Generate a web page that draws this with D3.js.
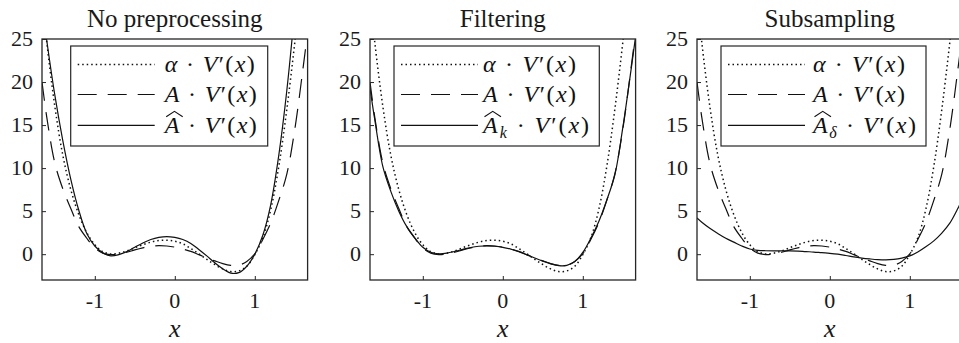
<!DOCTYPE html>
<html>
<head>
<meta charset="UTF-8">
</head>
<body style="margin:0">
<svg id="chart" width="959" height="343"></svg>
<script src="https://cdn.jsdelivr.net/npm/d3@7"></script>
<script>
var xGrid = [-1.66, -1.6, -1.5, -1.4, -1.3, -1.2, -1.1, -1.0, -0.9, -0.8, -0.7, -0.6,
             -0.5, -0.4, -0.3, -0.2, -0.1, 0, 0.1, 0.2, 0.3, 0.4, 0.5, 0.6,
             0.7, 0.8, 0.9, 1.0, 1.1, 1.2, 1.3, 1.4, 1.5, 1.6, 1.66];

// alpha * V'(x), same in every panel (dotted)
var alphaV = [30, 24.6, 17.2, 11.5, 7.5, 4.6, 2.5, 1.1, 0.3, 0.02, 0.12, 0.38,
              0.75, 1.1, 1.4, 1.58, 1.62, 1.5, 1.2, 0.65, 0.05, -0.6, -1.2, -1.72,
              -2.02, -1.95, -1.4, -0.05, 1.9, 5.2, 10.2, 16.8, 24.6, 33, 39];

// A * V'(x), same in every panel (dashed)
var aV = [20, 15.9, 10.6, 7.6, 5.3, 3.2, 1.85, 0.72, 0.12, -0.05, 0.02, 0.22,
          0.5, 0.74, 0.92, 0.99, 0.95, 0.82, 0.6, 0.33, -0.05, -0.43, -0.78, -1.1,
          -1.3, -1.28, -0.85, 0.05, 1.7, 3.65, 6.25, 9.3, 14.5, 21.4, 25.8];

// estimated drifts (solid), one per panel
var hatA = [29, 24.8, 18.5, 13.2, 8.7, 5.1, 2.4, 0.95, 0.15, -0.2, -0.05, 0.3,
            0.8, 1.3, 1.7, 1.95, 2.05, 1.95, 1.7, 1.25, 0.55, -0.2, -1.0, -1.7,
            -2.2, -2.15, -1.4, 0.0, 2.2, 5.8, 11.5, 19, 28.5, 40, 48];
var hatAk = [19.3, 15.6, 10.2, 7.3, 5.0, 3.2, 1.9, 0.8, 0.22, 0.05, 0.12, 0.32,
             0.56, 0.78, 0.92, 0.97, 0.92, 0.8, 0.58, 0.28, -0.08, -0.45, -0.8, -1.12,
             -1.34, -1.3, -0.85, 0.2, 1.85, 3.8, 6.3, 9.2, 14.7, 21.2, 25.3];
var hatAdelta = [4.2, 3.7, 3.0, 2.4, 1.85, 1.4, 0.95, 0.6, 0.45, 0.4, 0.38, 0.38,
                 0.38, 0.36, 0.3, 0.25, 0.17, 0.1, 0.0, -0.15, -0.32, -0.45, -0.55, -0.63,
                 -0.66, -0.6, -0.45, -0.2, 0.25, 0.85, 1.55, 2.45, 3.6, 5.3, 6.5];

var panelTitles = ["No preprocessing", "Filtering", "Subsampling"];
var hatSubs = ["", "k", "δ"];
var xTicks = [-1, 0, 1];
var yTicks = [0, 5, 10, 15, 20, 25];

// layout
var FONT = "Liberation Serif";
var panelLeft = [42, 370, 697];
var plotTop = 39, plotW = 265.6, plotH = 241;
var legendX = [28.7, 24, 24], legendW = [197, 205.3, 205];
var legendTextX = [94, 89, 92];
var rowY = [18.5, 48.5, 79.3];
var rowW = [[90, 92, 92], [93, 93, 106], [92, 92, 103]];
var lineStyles = [
    { dash: "1.5 3", width: 1.5 },
    { dash: "19 11", width: 1.2 },
    { dash: null, width: 1.2 }
];

var xScale = d3.scaleLinear().domain([-1.66, 1.66]).range([0, plotW]);
var yScale = d3.scaleLinear().domain([-3, 25]).range([plotH, 0]);

var curveLine = d3.line()
    .x(function (d, i) { return xScale(xGrid[i]); })
    .y(function (d) { return yScale(d); })
    .curve(d3.curveCatmullRom.alpha(0.5));

var svg = d3.select("#chart");
svg.append("rect").attr("width", 959).attr("height", 343).attr("fill", "#fff");

var hatSeries = [hatA, hatAk, hatAdelta];
var labels = [];   // texts are added last, straight on the svg root

panelTitles.forEach(function (title, i) {
    var ox = panelLeft[i], oy = plotTop;
    var g = svg.append("g").attr("transform", "translate(" + ox + "," + oy + ")");

    g.append("clipPath").attr("id", "clip" + i)
        .append("rect").attr("width", plotW).attr("height", plotH);

    var curves = g.append("g").attr("clip-path", "url(#clip" + i + ")");
    [alphaV, aV, hatSeries[i]].forEach(function (s, j) {
        curves.append("path")
            .datum(s)
            .attr("d", curveLine)
            .attr("fill", "none")
            .attr("stroke", "#111")
            .attr("stroke-width", lineStyles[j].width)
            .attr("stroke-dasharray", lineStyles[j].dash);
    });

    // axes: inward ticks from d3, labels re-placed as root texts
    var xAxis = g.append("g")
        .attr("transform", "translate(0," + plotH + ")")
        .call(d3.axisBottom(xScale).tickValues(xTicks).tickSizeInner(-4).tickSizeOuter(0));
    var yAxis = g.append("g")
        .call(d3.axisLeft(yScale).tickValues(yTicks).tickSizeInner(-4).tickSizeOuter(0));
    [xAxis, yAxis].forEach(function (ax) {
        ax.select(".domain").remove();
        ax.selectAll(".tick line").attr("stroke", "#262626");
        ax.selectAll(".tick text").remove();
    });
    xTicks.forEach(function (t) {
        labels.push({ x: ox + xScale(t), y: oy + plotH + 27.5, s: String(t), size: 22, anchor: "middle" });
    });
    yTicks.forEach(function (t) {
        labels.push({ x: ox - 9, y: oy + yScale(t) + 7, s: String(t), size: 22, anchor: "end" });
    });

    // legend
    var lx = ox + legendX[i], ly = oy + 7;
    var lg = g.append("g").attr("transform", "translate(" + legendX[i] + ",7)");
    lg.append("rect").attr("width", legendW[i]).attr("height", 100)
        .attr("fill", "#fff").attr("stroke", "#262626").attr("stroke-width", 1.2);
    rowY.forEach(function (ry, j) {
        lg.append("line").attr("x1", 7).attr("x2", 84).attr("y1", ry).attr("y2", ry)
            .attr("stroke", "#111")
            .attr("stroke-width", lineStyles[j].width)
            .attr("stroke-dasharray", lineStyles[j].dash);
        labels.push({
            x: lx + legendTextX[i], y: ly + ry + (j == 2 ? 8 : 7.5),
            lead: j == 0 ? "α" : "A", sub: j == 2 ? hatSubs[i] : "", hat: j == 2, w: rowW[i][j]
        });
    });

    // frame
    g.append("rect").attr("width", plotW).attr("height", plotH)
        .attr("fill", "none").attr("stroke", "#262626").attr("stroke-width", 1.3);

    labels.push({ x: ox + plotW / 2, y: 26.5, s: title, size: 25, anchor: "middle" });
    labels.push({ x: ox + plotW / 2, y: 336.5, s: "x", size: 26, anchor: "middle", italic: true });
});

labels.forEach(function (d) {
    if (d.lead) {
        var t = svg.append("text")
            .attr("x", d.x).attr("y", d.y)
            .attr("font-size", 24).attr("font-family", FONT).attr("fill", "#111")
            .attr("textLength", d.w).attr("lengthAdjust", "spacing");
        t.append("tspan").attr("font-style", "italic").text(d.lead);
        if (d.sub) {
            t.append("tspan").attr("dy", 5).attr("font-size", 16).attr("font-style", "italic").text(d.sub);
        }
        t.append("tspan").attr("dy", d.sub ? -5 : 0).text("\u00a0·\u00a0");
        t.append("tspan").attr("font-style", "italic").text("V");
        t.append("tspan").text("′(");
        t.append("tspan").attr("font-style", "italic").text("x");
        t.append("tspan").text(")");
        if (d.hat) {
            var hx = d.x + 1.5, hw = 16.5;
            svg.append("path")
                .attr("d", "M" + hx + "," + (d.y - 16.5) + "L" + (hx + hw / 2) + "," + (d.y - 22) + "L" + (hx + hw) + "," + (d.y - 16.5))
                .attr("fill", "none").attr("stroke", "#111").attr("stroke-width", 1.1);
        }
    } else {
        svg.append("text")
            .attr("x", d.x).attr("y", d.y)
            .attr("text-anchor", d.anchor)
            .attr("font-size", d.size).attr("font-family", FONT)
            .attr("font-style", d.italic ? "italic" : null)
            .attr("fill", "#1a1a1a")
            .text(d.s);
    }
});
</script>
</body>
</html>
